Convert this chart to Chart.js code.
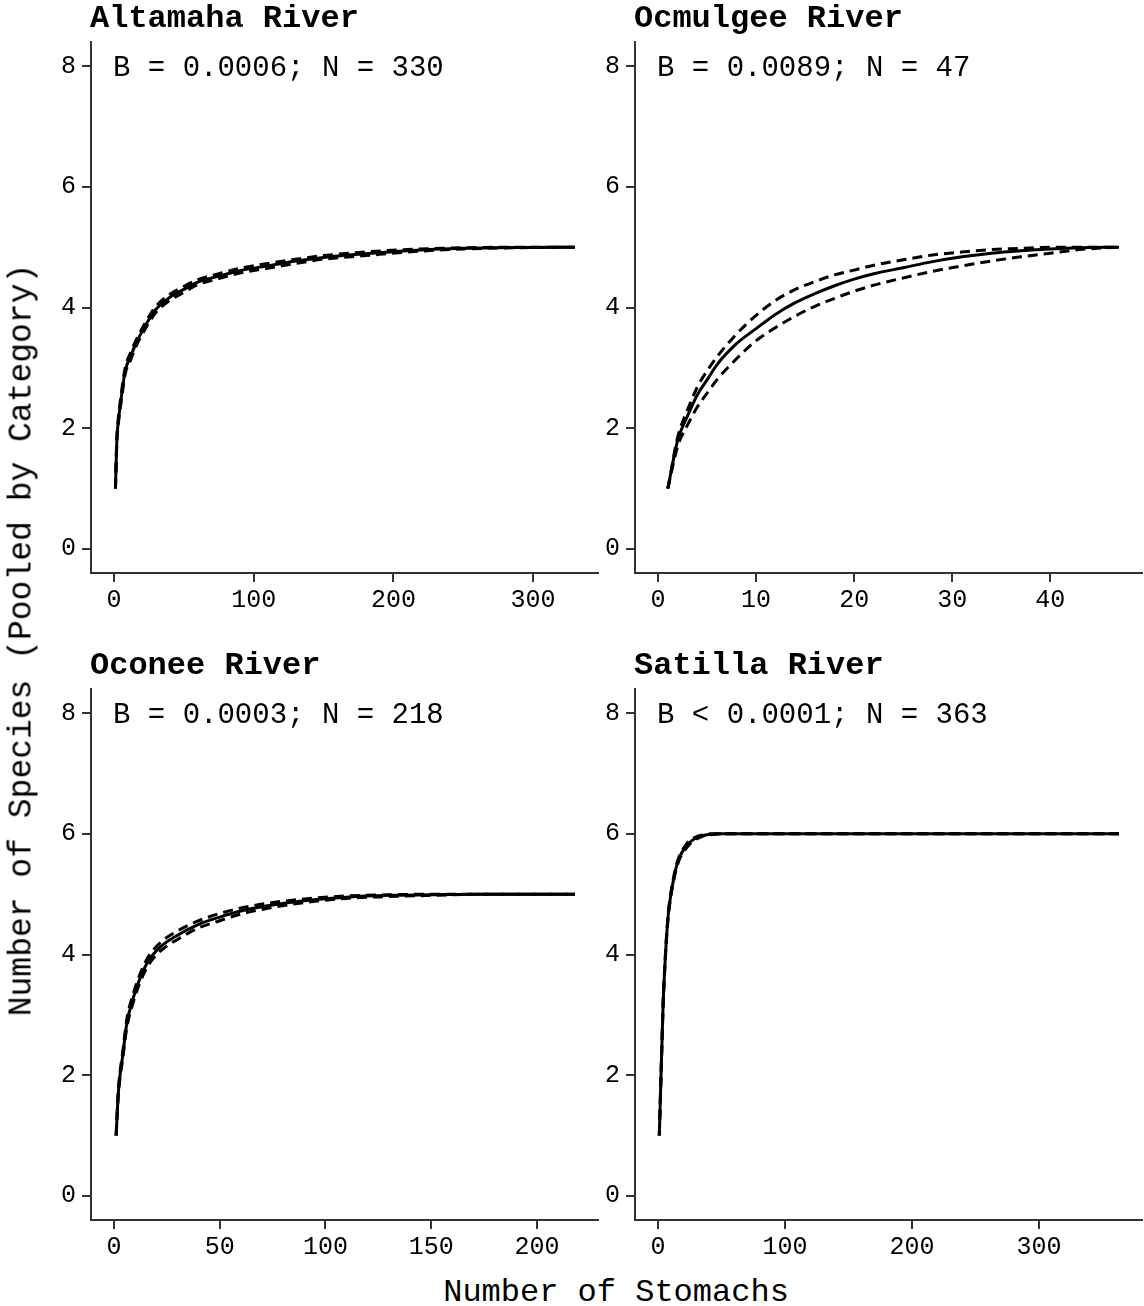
<!DOCTYPE html>
<html>
<head>
<meta charset="utf-8">
<script src="https://cdn.jsdelivr.net/npm/chart.js@4.4.1/dist/chart.umd.min.js"></script>
<style>
  body { margin: 0; background: #fff; }
  #wrap { position: relative; width: 1144px; height: 1306px; font-family: "Liberation Mono", "Courier New", monospace; }
  canvas { position: absolute; }
  .axtitle { position: absolute; font-size: 32px; color: #000; white-space: nowrap; }
</style>
</head>
<body>
<div id="wrap">
  <canvas id="c1" width="600" height="613" style="left:0;top:0"></canvas>
  <canvas id="c2" width="600" height="613" style="left:544px;top:0"></canvas>
  <canvas id="c3" width="600" height="613" style="left:0;top:647px"></canvas>
  <canvas id="c4" width="600" height="613" style="left:544px;top:647px"></canvas>
  <div class="axtitle" id="ytitle">Number of Species (Pooled by Category)</div>
  <div class="axtitle" id="xtitle">Number of Stomachs</div>
</div>
<script>
// rarefaction curves: expected species count with upper/lower bounds
const yTicks = [0, 2, 4, 6, 8];

const altamahaX     = [1, 2, 3, 5, 8, 12, 16, 20, 25, 30, 40, 50, 60, 75, 90, 110, 130, 150, 180, 210, 250, 290, 330];
const altamahaMean  = [1.0, 1.8, 2.1, 2.48, 2.95, 3.2, 3.42, 3.6, 3.8, 3.97, 4.17, 4.3, 4.42, 4.52, 4.61, 4.69, 4.77, 4.83, 4.89, 4.94, 4.98, 4.995, 5.0];
const altamahaUpper = [1.0, 1.85, 2.15, 2.54, 3.0, 3.26, 3.47, 3.65, 3.85, 4.02, 4.22, 4.35, 4.46, 4.56, 4.65, 4.73, 4.8, 4.86, 4.92, 4.96, 4.99, 5.0, 5.0];
const altamahaLower = [1.0, 1.75, 2.05, 2.42, 2.9, 3.14, 3.37, 3.55, 3.75, 3.92, 4.12, 4.25, 4.38, 4.48, 4.57, 4.65, 4.73, 4.8, 4.86, 4.92, 4.97, 4.99, 5.0];
const altamahaTicks = [0, 100, 200, 300];

const ocmulgeeX     = [1, 2, 3, 4, 5, 6, 8, 10, 12, 14, 16, 18, 20, 22, 25, 28, 31, 34, 37, 40, 43, 47];
const ocmulgeeMean  = [1.0, 1.8, 2.2, 2.55, 2.8, 3.05, 3.4, 3.65, 3.89, 4.08, 4.23, 4.36, 4.47, 4.56, 4.66, 4.76, 4.84, 4.9, 4.94, 4.97, 4.99, 5.0];
const ocmulgeeUpper = [1.0, 1.85, 2.3, 2.68, 2.95, 3.18, 3.56, 3.87, 4.12, 4.3, 4.43, 4.54, 4.62, 4.7, 4.79, 4.87, 4.92, 4.96, 4.98, 5.0, 5.0, 5.0];
const ocmulgeeLower = [1.0, 1.7, 2.05, 2.35, 2.58, 2.8, 3.15, 3.45, 3.67, 3.86, 4.02, 4.15, 4.27, 4.37, 4.49, 4.6, 4.69, 4.77, 4.84, 4.9, 4.96, 5.0];
const ocmulgeeTicks = [0, 10, 20, 30, 40];

const oconeeX     = [1, 2, 3, 4, 6, 9, 12, 16, 22, 30, 40, 50, 60, 75, 90, 110, 130, 150, 175, 200, 218];
const oconeeMean  = [1.0, 1.7, 2.05, 2.3, 2.85, 3.27, 3.58, 3.88, 4.13, 4.32, 4.5, 4.62, 4.72, 4.82, 4.89, 4.95, 4.98, 4.99, 5.0, 5.0, 5.0];
const oconeeUpper = [1.0, 1.75, 2.1, 2.36, 2.92, 3.34, 3.65, 3.95, 4.2, 4.39, 4.56, 4.68, 4.77, 4.86, 4.92, 4.97, 4.99, 5.0, 5.0, 5.0, 5.0];
const oconeeLower = [1.0, 1.65, 2.0, 2.24, 2.78, 3.2, 3.51, 3.81, 4.06, 4.25, 4.44, 4.56, 4.67, 4.78, 4.86, 4.93, 4.96, 4.98, 5.0, 5.0, 5.0];
const oconeeTicks = [0, 50, 100, 150, 200];

const satillaX     = [1, 2, 3, 4, 6, 8, 10, 12, 14, 16, 18, 20, 25, 30, 35, 40, 50, 60, 100, 200, 300, 363];
const satillaMean  = [1.0, 1.75, 2.47, 3.18, 4.05, 4.65, 4.98, 5.22, 5.42, 5.56, 5.66, 5.73, 5.86, 5.93, 5.97, 5.99, 6.0, 6.0, 6.0, 6.0, 6.0, 6.0];
const satillaUpper = [1.0, 1.78, 2.5, 3.21, 4.08, 4.68, 5.01, 5.25, 5.45, 5.59, 5.69, 5.76, 5.89, 5.95, 5.98, 6.0, 6.0, 6.0, 6.0, 6.0, 6.0, 6.0];
const satillaLower = [1.0, 1.72, 2.44, 3.15, 4.02, 4.62, 4.95, 5.19, 5.39, 5.53, 5.63, 5.7, 5.83, 5.91, 5.96, 5.98, 6.0, 6.0, 6.0, 6.0, 6.0, 6.0];
const satillaTicks = [0, 100, 200, 300];

const FONT = '"Liberation Mono", "Courier New", monospace';
const AXIS = '#333';

function pts(xs, ys) {
  return xs.map((x, i) => ({ x: x, y: ys[i] }));
}

// panel heading + B/N note
const panelText = {
  id: 'panelText',
  afterDraw(chart, args, opts) {
    const ctx = chart.ctx;
    const a = chart.chartArea;
    ctx.save();
    ctx.fillStyle = '#000';
    ctx.textBaseline = 'middle';
    ctx.textAlign = 'left';
    ctx.font = 'bold 32px ' + FONT;
    ctx.fillText(opts.title, a.left - 1, 19);
    ctx.font = '29px ' + FONT;
    const sx = chart.scales.x, sy = chart.scales.y;
    ctx.fillText(opts.note, sx.getPixelForValue(0) - 1, sy.getPixelForValue(8) + 2);
    ctx.restore();
  }
};

function makePanel(id, title, note, xs, mean, upper, lower, ticks, n) {
  const pad = n * 0.05;
  const line = (data, dashed) => ({
    data: data,
    borderColor: '#000',
    borderWidth: 3,
    borderDash: dashed ? [10, 6] : [],
    pointRadius: 0,
    fill: false,
    cubicInterpolationMode: 'monotone'
  });
  return new Chart(document.getElementById(id), {
    type: 'line',
    data: {
      datasets: [
        line(pts(xs, upper), true),
        line(pts(xs, lower), true),
        line(pts(xs, mean), false)
      ]
    },
    options: {
      responsive: false,
      animation: false,
      devicePixelRatio: 1,
      layout: { padding: { top: 42, right: 2, left: 0, bottom: 0 } },
      plugins: {
        legend: { display: false },
        tooltip: { enabled: false },
        panelText: { title: title, note: note }
      },
      scales: {
        x: {
          type: 'linear',
          min: -pad,
          max: n + pad,
          afterBuildTicks: s => { s.ticks = ticks.map(v => ({ value: v })); },
          afterFit: s => { s.height = 40; },
          grid: { drawOnChartArea: false, drawTicks: true, tickLength: 9, color: AXIS, lineWidth: 2 },
          border: { display: true, color: AXIS, width: 2 },
          ticks: { color: '#000', font: { family: FONT, size: 25 }, padding: 3, maxRotation: 0, autoSkip: false }
        },
        y: {
          type: 'linear',
          min: -0.4,
          max: 8.4,
          afterBuildTicks: s => { s.ticks = yTicks.map(v => ({ value: v })); },
          afterFit: s => { s.width = 91; },
          grid: { drawOnChartArea: false, drawTicks: true, tickLength: 9, color: AXIS, lineWidth: 2 },
          border: { display: true, color: AXIS, width: 2 },
          ticks: { color: '#000', font: { family: FONT, size: 25 }, padding: 6 }
        }
      }
    },
    plugins: [panelText]
  });
}

makePanel('c1', 'Altamaha River', 'B = 0.0006; N = 330', altamahaX, altamahaMean, altamahaUpper, altamahaLower, altamahaTicks, 330);
makePanel('c2', 'Ocmulgee River', 'B = 0.0089; N = 47', ocmulgeeX, ocmulgeeMean, ocmulgeeUpper, ocmulgeeLower, ocmulgeeTicks, 47);
makePanel('c3', 'Oconee River', 'B = 0.0003; N = 218', oconeeX, oconeeMean, oconeeUpper, oconeeLower, oconeeTicks, 218);
makePanel('c4', 'Satilla River', 'B < 0.0001; N = 363', satillaX, satillaMean, satillaUpper, satillaLower, satillaTicks, 363);

// shared axis titles
const yt = document.getElementById('ytitle');
yt.style.left = '22px';
yt.style.top = '640px';
yt.style.fontSize = '33px';
yt.style.transform = 'translate(-50%, -50%) rotate(-90deg)';
const xt = document.getElementById('xtitle');
xt.style.left = '616px';
xt.style.top = '1292px';
xt.style.transform = 'translate(-50%, -50%)';
</script>
</body>
</html>
